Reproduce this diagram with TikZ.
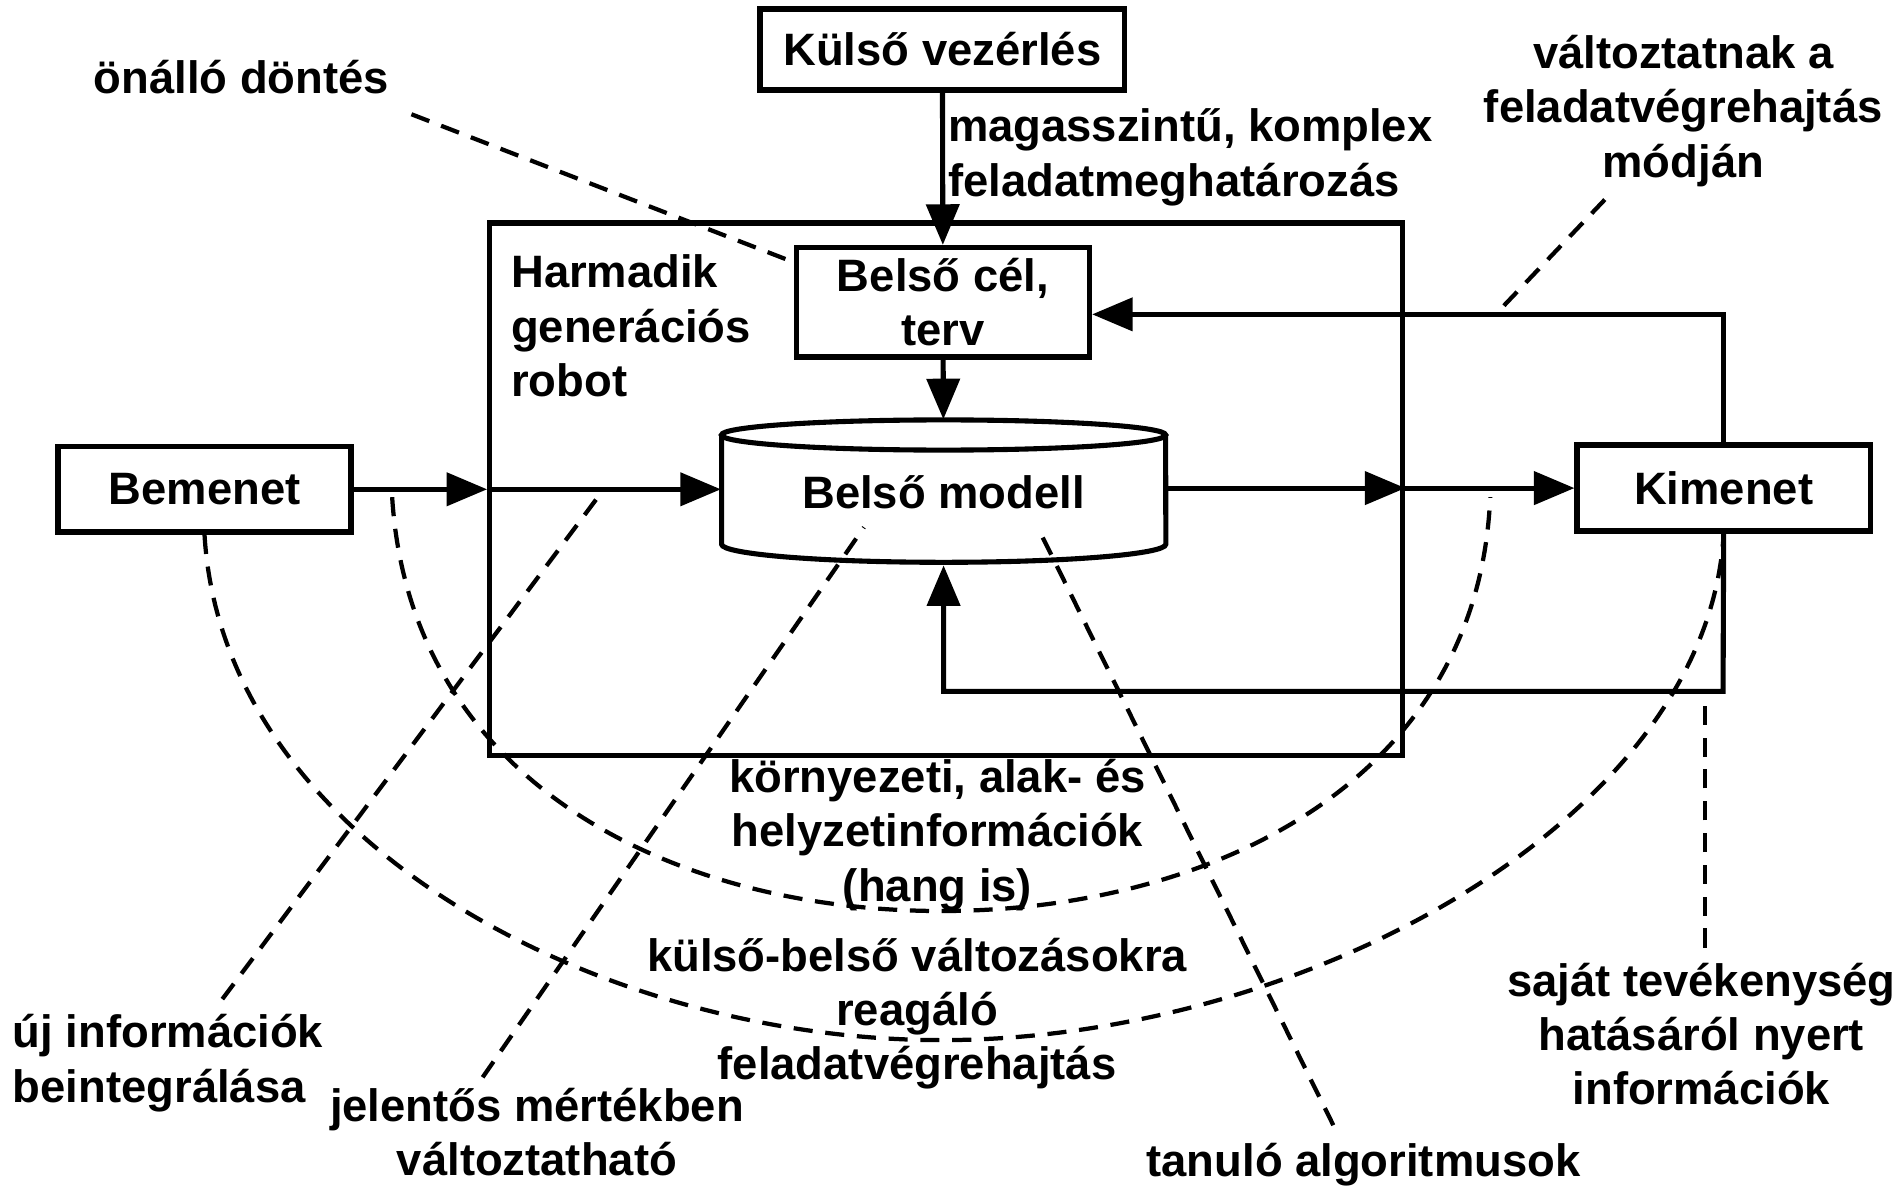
\documentclass[tikz,border=0pt]{standalone}
\usepackage{fontspec}
\setmainfont{Liberation Sans}
\usetikzlibrary{arrows}

\begin{document}
\begin{tikzpicture}[x=0.01cm,y=-0.01cm,>=triangle 45,
		font=\fontsize{10.7}{12.8}\selectfont\bfseries,
		box/.style={draw,line width=1.3pt,inner sep=0pt,align=center},
		txt/.style={inner sep=0pt,align=center},
		flow/.style={->,line width=1.2pt},
		hint/.style={line width=1pt,dash pattern=on 4.5pt off 3pt}]

		\useasboundingbox (0,0) rectangle (1568,984);

		% dobozok
		\node[box,minimum width=3.02cm,minimum height=0.67cm] (kulso) at (781,41) {Külső vezérlés};
		\node[box,minimum width=7.56cm,minimum height=4.41cm] (robot) at (784,405.5) {};
		\node[box,minimum width=2.43cm,minimum height=0.91cm] (cel) at (781.5,250.5) {Belső cél,\\terv};
		\node[box,minimum width=2.43cm,minimum height=0.71cm] (be) at (169.5,405.5) {Bemenet};
		\node[box,minimum width=2.43cm,minimum height=0.71cm] (ki) at (1428.5,404.5) {Kimenet};

		% henger
		\node[txt,minimum width=3.68cm,minimum height=1.2cm] (modell) at (782,408) {Belső modell};
		\draw[line width=1.2pt] (782,360.5) ellipse [x radius=1.84cm,y radius=0.125cm];
		\draw[line width=1.2pt] (598,360.5) -- (598,451)
			arc[start angle=180,end angle=360,x radius=1.84cm,y radius=0.15cm] -- (966,360.5);

		% nyilak
		\coordinate (robotL) at (be.east -| robot.west);
		\coordinate (robotR) at (ki.west -| robot.east);
		\coordinate (vissza) at (1428,573);
		\draw[flow] (kulso) -- (cel);
		\draw[flow] (cel) -- (modell);
		\draw[flow] (be) -- (robotL);
		\draw[flow] (robotL) -- (robotL -| modell.west);
		\draw[flow] (robotR -| modell.east) -- (robotR);
		\draw[flow] (robotR) -- (ki);
		\draw[flow] (ki.north) |- ([yshift=-0.1cm]cel.east);
		\draw[flow] (ki.south) -- (vissza) -| (modell.south);

		% feliratok
		\node[txt,anchor=west,align=left] (magas) at (785,130.5) {magasszintű, komplex\\feladatmeghatározás};
		\node[txt,anchor=west,align=left] (harm) at (423,270) {Harmadik\\generációs\\robot};
		\node[txt] (onallo) at (200,64) {önálló döntés};
		\node[txt] (valt) at (1395,92) {változtatnak a\\feladatvégrehajtás\\módján};
		\node[txt] (korny) at (777,692) {környezeti, alak- és\\helyzetinformációk\\(hang is)};
		\node[txt] (reag) at (760,840) {külső-belső változásokra\\reagáló\\feladatvégrehajtás};
		\node[txt,anchor=west,align=left] (uj) at (10,881) {új információk\\beintegrálása};
		\node[txt] (jel) at (445,938) {jelentős mértékben\\változtatható};
		\node[txt] (tan) at (1130,965) {tanuló algoritmusok};
		\node[txt] (sajat) at (1410,857) {saját tevékenység\\hatásáról nyert\\információk};

		% szaggatott mutatok
		\coordinate (celsarok) at (657,217);
		\coordinate (visszafent) at (1240,260);
		\coordinate (bemenetvonal) at (500,406);
		\coordinate (modellbal) at (716,437);
		\coordinate (modelljobb) at (860,437);
		\coordinate (visszalent) at (1413,585);
		\coordinate (ivBal) at (325,412);
		\coordinate (ivJobb) at (1235,412);

		\draw[hint] ([shift={(18,16)}]onallo.south east) -- (celsarok);
		\draw[hint] ([shift={(-65,10)}]valt.south) -- (visszafent);
		\draw[hint] ([shift={(45,-12)}]uj.north) -- (bemenetvonal);
		\draw[hint] ([shift={(-45,-8)}]jel.north) -- (modellbal);
		\draw[hint] ([shift={(-25,-14)}]tan.north) -- (modelljobb);
		\draw[hint] ([shift={(3,-12)}]sajat.north) -- (visszalent);

		\draw[hint] (ivBal) .. controls (340,650) and (560,755) .. (780,755)
			.. controls (1000,755) and (1225,650) .. (ivJobb);
		\draw[hint] (be.south) .. controls (185,700) and (500,862) .. (780,862)
			.. controls (1080,862) and (1415,680) .. (ki.south);
	\end{tikzpicture}
\end{document}
